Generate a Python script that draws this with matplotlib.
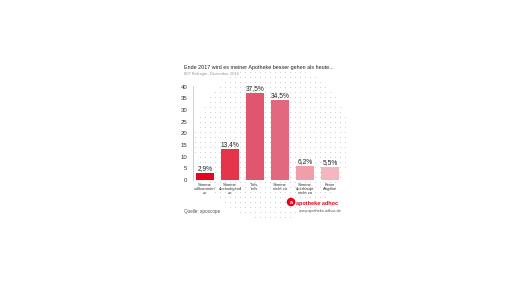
import numpy as np
import matplotlib.pyplot as plt
from matplotlib.patches import Circle

plt.rcParams["font.family"] = ["Liberation Sans", "DejaVu Sans"]

categories = ["Stimme\nvollkommen\nzu", "Stimme\nüberwiegend\nzu", "Teils,\nteils",
              "Stimme\nnicht zu", "Stimme\nüberhaupt\nnicht zu", "Keine\nAngabe"]
values = [2.9, 13.4, 37.5, 34.5, 6.2, 5.5]
value_labels = ["2,9%", "13,4%", "37,5%", "34,5%", "6,2%", "5,5%"]
colors = ["#e3061c", "#e6344b", "#e0566f", "#e2687f", "#f09ea9", "#f4b6bf"]
yticks = [0, 5, 10, 15, 20, 25, 30, 35, 40]

fig = plt.figure(figsize=(5.16, 2.9), dpi=100)
fig.patch.set_facecolor("white")

# decorative dotted circle behind the chart
bg = fig.add_axes([0, 0, 1, 1])
bg.set_xlim(0, 516)
bg.set_ylim(290, 0)
bg.axis("off")
gx, gy = np.meshgrid(np.arange(190, 352, 5), np.arange(62, 220, 5))
mask = (gx - 272) ** 2 + (gy - 142) ** 2 < 78 ** 2
bg.scatter(gx[mask], gy[mask], s=0.3, color="#bdbdbd", linewidths=0)

ax = fig.add_axes([193 / 516, 1 - 180 / 290, 150 / 516, 94.5 / 290])
ax.patch.set_alpha(0)
x = np.arange(len(values))
ax.bar(x, values, width=0.72, color=colors, zorder=3)
for xi, v, lab in zip(x, values, value_labels):
    ax.text(xi, v + 0.4, lab, ha="center", va="bottom", fontsize=4.8, color="#222222")
ax.set_xlim(-0.48, 5.52)
ax.set_ylim(0, 40.5)
ax.set_yticks(yticks)
ax.set_yticklabels([str(t) for t in yticks], fontsize=4.3, color="#333333")
ax.set_xticks(x)
ax.set_xticklabels(categories, fontsize=3.0, color="#333333", linespacing=1.1)
ax.tick_params(axis="y", length=0, pad=4)
ax.tick_params(axis="x", length=0, pad=2)
for s in ["top", "right", "bottom"]:
    ax.spines[s].set_visible(False)
ax.spines["left"].set_color("#bbbbbb")
ax.spines["left"].set_linewidth(0.5)

fig.text(184 / 516, 1 - 68 / 290, "Ende 2017 wird es meiner Apotheke besser gehen als heute...",
         fontsize=3.9, color="#222222", va="center", ha="left")
fig.text(184 / 516, 1 - 74.5 / 290, "807 Befragte, Dezember 2016",
         fontsize=3.0, color="#999999", va="center", ha="left")
fig.text(184 / 516, 1 - 211 / 290, "Quelle: aposcope",
         fontsize=3.3, color="#555555", va="center", ha="left")

# logo
bg.add_patch(Circle((291, 202), 3.6, color="#e3061c"))
bg.text(291, 202.3, "a", fontsize=4.0, color="white", ha="center", va="center", fontweight="bold")
bg.text(296, 203.5, "apotheke adhoc", fontsize=4.0, color="#e3061c", ha="left", va="center",
        fontweight="bold")
bg.text(341, 211, "www.apotheke-adhoc.de", fontsize=2.8, color="#555555", ha="right", va="center")

fig.savefig("out.png", dpi=100)
